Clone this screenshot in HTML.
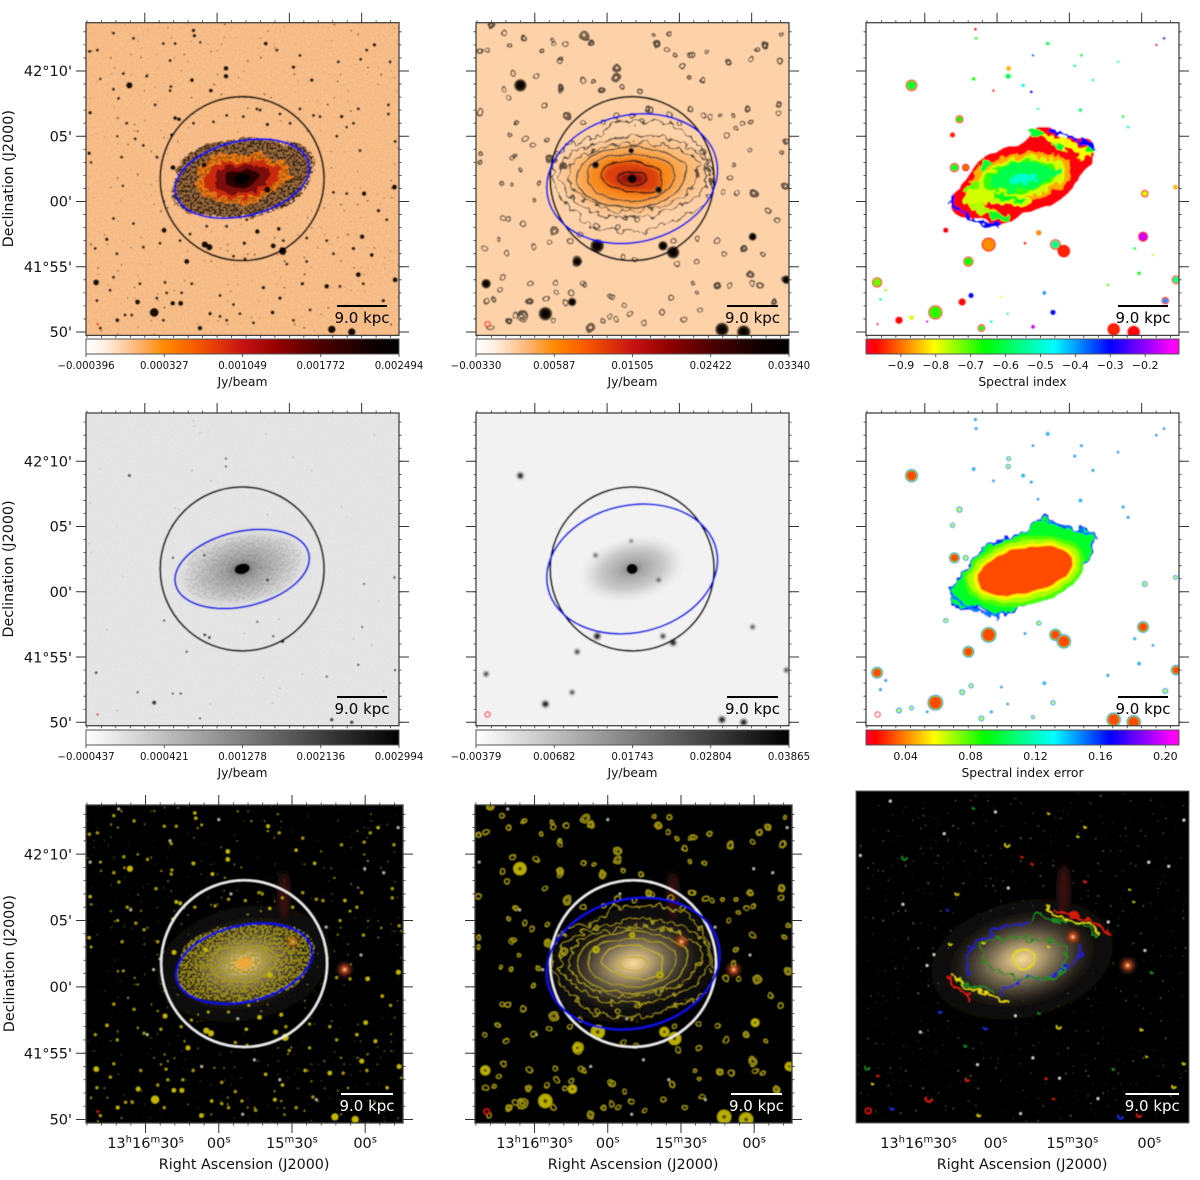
<!DOCTYPE html>
<html lang="en">
<head>
<meta charset="utf-8">
<title>Galaxy radio maps, spectral index and optical overlays</title>
<style>
html,body{margin:0;padding:0;background:#fff;}
svg{display:block;}
text{font-family:"DejaVu Sans","Liberation Sans",sans-serif;fill:#111;}
</style>
</head>
<body>
<svg id="figure" xmlns="http://www.w3.org/2000/svg" width="1200" height="1180" viewBox="0 0 1200 1180">
<defs>
<linearGradient id="cbHeat"><stop offset="0" stop-color="#ffffff"/><stop offset=".06" stop-color="#fff0e2"/><stop offset=".17" stop-color="#fbb36e"/><stop offset=".25" stop-color="#ff8a00"/><stop offset=".35" stop-color="#f85a00"/><stop offset=".5" stop-color="#c81212"/><stop offset=".62" stop-color="#8f0000"/><stop offset=".75" stop-color="#4d0000"/><stop offset=".9" stop-color="#120000"/><stop offset="1" stop-color="#000"/></linearGradient>
<linearGradient id="cbGrey"><stop offset="0" stop-color="#fff"/><stop offset="1" stop-color="#000"/></linearGradient>
<linearGradient id="cbRainbow"><stop offset="0" stop-color="#ff0030"/><stop offset=".03" stop-color="#ff0000"/><stop offset=".218" stop-color="#ffff00"/><stop offset=".38" stop-color="#00ff00"/><stop offset=".6" stop-color="#00ffff"/><stop offset=".78" stop-color="#0000ff"/><stop offset=".98" stop-color="#ff00ff"/><stop offset="1" stop-color="#ff00e0"/></linearGradient>
<radialGradient id="srcDark"><stop offset="0" stop-color="#000"/><stop offset=".6" stop-color="#170a04"/><stop offset=".85" stop-color="#5a4a3a"/><stop offset="1" stop-color="#7a6a58" stop-opacity=".7"/></radialGradient>
<radialGradient id="srcYellow"><stop offset="0" stop-color="#111"/><stop offset=".22" stop-color="#6e6600"/><stop offset=".4" stop-color="#c0b400"/><stop offset="1" stop-color="#b0a400"/></radialGradient>
<radialGradient id="galaxyTan"><stop offset="0" stop-color="#f8dc96"/><stop offset=".1" stop-color="#dcc084"/><stop offset=".28" stop-color="#958560"/><stop offset=".5" stop-color="#4f4638" stop-opacity=".92"/><stop offset=".75" stop-color="#1e1a14" stop-opacity=".5"/><stop offset="1" stop-color="#0a0806" stop-opacity="0"/></radialGradient>
<radialGradient id="galaxyGrey"><stop offset="0" stop-color="#707070"/><stop offset=".22" stop-color="#a0a0a0"/><stop offset=".6" stop-color="#c6c6c6"/><stop offset="1" stop-color="#ddd" stop-opacity="0"/></radialGradient>
<radialGradient id="glowRed"><stop offset="0" stop-color="#ffe0b0"/><stop offset=".25" stop-color="#c8521e"/><stop offset="1" stop-color="#501008" stop-opacity="0"/></radialGradient>
<filter id="soft" x="-3%" y="-3%" width="106%" height="106%"><feGaussianBlur stdDeviation=".4"/></filter>
<filter id="blur3" x="-20%" y="-20%" width="140%" height="140%"><feGaussianBlur stdDeviation="3"/></filter>
<filter id="blur1" x="-20%" y="-20%" width="140%" height="140%"><feGaussianBlur stdDeviation="1.3"/></filter>
<filter id="blur6" x="-60%" y="-60%" width="220%" height="220%"><feGaussianBlur stdDeviation="6"/></filter>
<filter id="roughA" x="-15%" y="-15%" width="130%" height="130%" color-interpolation-filters="sRGB"><feTurbulence type="fractalNoise" baseFrequency=".12" numOctaves="2" seed="4"/><feDisplacementMap in="SourceGraphic" scale="13" xChannelSelector="R" yChannelSelector="G"/></filter>
<filter id="roughB" x="-15%" y="-15%" width="130%" height="130%" color-interpolation-filters="sRGB"><feTurbulence type="fractalNoise" baseFrequency=".08" numOctaves="2" seed="9"/><feDisplacementMap in="SourceGraphic" scale="5" xChannelSelector="R" yChannelSelector="G"/></filter>
<filter id="grain" x="0" y="0" width="100%" height="100%" color-interpolation-filters="sRGB"><feTurbulence type="fractalNoise" baseFrequency="1.05" numOctaves="1" seed="2"/><feColorMatrix type="matrix" values="0 0 0 0 1 0 0 0 0 1 0 0 0 0 1 0 0 0 3.5 -1.5"/><feComposite in2="SourceAlpha" operator="in"/></filter>
<filter id="darkSparse" x="0" y="0" width="100%" height="100%" color-interpolation-filters="sRGB"><feTurbulence type="fractalNoise" baseFrequency=".3" numOctaves="1" seed="7"/><feColorMatrix type="matrix" values="0 0 0 0 .12 0 0 0 0 .07 0 0 0 0 .02 0 0 0 14 -10.2"/><feComposite in2="SourceAlpha" operator="in"/></filter>
<filter id="darkDense" x="0" y="0" width="100%" height="100%" color-interpolation-filters="sRGB"><feTurbulence type="fractalNoise" baseFrequency=".42" numOctaves="1" seed="12"/><feColorMatrix type="matrix" values="0 0 0 0 .1 0 0 0 0 .05 0 0 0 0 .02 0 0 0 10 -4.6"/><feComposite in2="SourceAlpha" operator="in"/></filter>
<filter id="yellowSparse" x="0" y="0" width="100%" height="100%" color-interpolation-filters="sRGB"><feTurbulence type="fractalNoise" baseFrequency=".3" numOctaves="1" seed="7"/><feColorMatrix type="matrix" values="0 0 0 0 .72 0 0 0 0 .67 0 0 0 0 .05 0 0 0 14 -10.2"/><feComposite in2="SourceAlpha" operator="in"/></filter>
<filter id="yellowDense" x="0" y="0" width="100%" height="100%" color-interpolation-filters="sRGB"><feTurbulence type="fractalNoise" baseFrequency=".42" numOctaves="1" seed="12"/><feColorMatrix type="matrix" values="0 0 0 0 .66 0 0 0 0 .6 0 0 0 0 .08 0 0 0 10 -4.4"/><feComposite in2="SourceAlpha" operator="in"/></filter>
<filter id="whiteSparse" x="0" y="0" width="100%" height="100%" color-interpolation-filters="sRGB"><feTurbulence type="fractalNoise" baseFrequency=".4" numOctaves="1" seed="21"/><feColorMatrix type="matrix" values="0 0 0 0 .75 0 0 0 0 .72 0 0 0 0 .65 0 0 0 12 -8.6"/><feComposite in2="SourceAlpha" operator="in"/></filter>
</defs>
</svg>
<script>
/* ---------- chart data: sky coordinates (RA seconds from 13h16m00s, Dec arcmin from 42d00m) ---------- */
const majorRaTicks = [30, 0, -30, -60];
const majorDecTicks = [10, 5, 0, -5, -10];
const decTickLabels = ["42°10'", "05'", "00'", "41°55'", "50'"];
const raTickLabels = [["13","h","16","m","30","s"], ["00","s"], ["15","m","30","s"], ["00","s"]];
const heatLabelsHigh = ["−0.000396","0.000327","0.001049","0.001772","0.002494"];
const heatLabelsLow = ["−0.00330","0.00587","0.01505","0.02422","0.03340"];
const greyLabelsHigh = ["−0.000437","0.000421","0.001278","0.002136","0.002994"];
const greyLabelsLow = ["−0.00379","0.00682","0.01743","0.02804","0.03865"];
const spectralTicks = [-0.9,-0.8,-0.7,-0.6,-0.5,-0.4,-0.3,-0.2];
const spectralTickLabels = ["−0.9","−0.8","−0.7","−0.6","−0.5","−0.4","−0.3","−0.2"];
const errorTicks = [0.04,0.08,0.12,0.16,0.20];
const errorTickLabels = ["0.04","0.08","0.12","0.16","0.20"];

const galaxyRa = -10.4;
const galaxyDec = 1.75;
const circleRadius = 6.28;
const highResEllipse = [5.24, 2.87, 13];
const lowResEllipse = [6.62, 4.87, 13];

/* compact sources at high resolution */
const hiRa = [36.4,50.2,26.1,15.1,18.4,41.4,7.1,-47.6,-55.9,5.1,3.2,-27.2,-23.3,12.6,22,-60.2,-61,-73.6,-73.9,-3.7,-3.7,2.6,10.4,9.8,9.4,7,-20.2,-65.3,-31.7,-39.3,18.3,5.4,-20.9,-16.7,-25.6,-11.3,-45.5,-23,-58.6,-69,33,-19.2,-26.1,-35.4,2.9,52.7,15.8,17.4,-20.9,18.8,41.4,48.5,45.8,53.1,52.3,39.1,-51.7,-53.8,-56.6,-64.2,-67];
const hiDec = [8.9,-6.2,-8.5,-7.8,-7.8,-9.1,-9.7,-9.8,-10,-3.3,-3.5,-3.8,-3.4,-4.6,-2.2,-2.7,.6,1.1,-6,10.2,9.6,8.5,9.3,13.1,12.7,12.2,12.1,12,10.3,9.3,2.6,2.8,.9,-2.3,-2.1,-3.2,-6.5,-8.5,-5.6,-7.6,-7.7,-6.6,-7.4,-6.3,-8.6,6.8,6.3,6.4,5.9,5.1,5,9.4,-2.9,3.7,3,1.2,6.5,5.7,-3.6,-4.1,-.7];
const hiSize = [15,14,21,12,11,9,11,18,18,15,15,18,12,12,12,11,11,12,12,11,11,9,9,8,8,6,9,8,8,8,12,12,15,11,9,8,11,9,12,8,12,8,8,8,8,8,9,9,8,8,6,6,8,8,6,6,8,6,8,9,8];

/* faint compact sources */
const faintRa = [43,34.7,53,49.7,38.9,29.2,19.5,22.3,17.4,25.7,19.2,19.5,40.9,43,37.5,39.6,25,30.6,34,50.6,30.6,34.7,43,41.6,21.6,20.9,10.5,-1.2,-6.8,-4,14.7,-24.8,-34.4,-50.3,-59.6,-71.8,-62.1,-71.1,-71.1,-40,-42.7,-34.4,-58.6,-56.6,-49.7,-59.3,-73.9,-48.3,-53.8,-51,-60.7,-45.5,-70.4,-37.2,-27.5,-12.3,-4,4.3,11.2,23.7,15.4,-17.8,-16.5,-26.1,-30.3,-10.9,1.5,-4,9.8,-6.8,-11.6,-28.9,-37.2,-48.3,-38.6,-31.7,-15.1,-9.5,-1.2,22.3,35.4,38.2,48.5,25,32,43,49.9,44.4];
const faintDec = [12.9,12.5,11.5,11.6,9.8,9.6,10.8,12.1,12.1,7.4,8.8,8.5,7.9,8.6,6,3.4,3.4,4.3,4.8,-3.6,-3.5,-1.7,-1.3,-4,-6.2,-7,-6.3,-7.2,-7.9,-9.1,-7,11.6,11.2,10.7,10.9,10.7,11.6,7.4,6.7,6.6,6.5,7.1,7.1,6,5,3.9,4.6,.7,.6,-6.5,-6.3,-3,-1.4,-2.8,-3,-1.4,-1.9,-1.9,-2.5,-3.2,-3,7,7.1,6.7,6,6.5,6.1,6.6,6,-4.2,-4.4,-4.8,-4.6,-4,-8.3,-9.1,-9.3,-8.6,-8.8,-9.1,-8.7,-8.7,-9.7,-7.4,-6.3,-5.8,-7.6,-6.8];

/* contour rings at low resolution */
const ringRa = [52.6,40.4,34.3,27,22.8,19.4,48.1,9.4,6.9,-3.9,-3.9,10,2.1,-13.8,19.4,5.5,-6.2,-20.7,-35.3,-41.5,-31.5,-28.2,-50.5,-71.9,-65.7,-62.2,-72,-25.6,-19.4,-39.4,-33.9,-16.6,-34.6,-52.6,-58.8,-71.3,-59.5,-53.5,-47,-74.4,-72.6,-52.6,-51.2,-61.1,-74,-67.1,-74.4,-59.5,-45.9,-35.7,-26.3,-22.8,-37.3,-63.6,-56.7,-64.7,-69.2,6.9,40.8,32.6,47,35.1,-2.1,2.1,9.4,17.3,12.4,40.8,44.9,52.9,52.9,52.9,38.7,36,39.4,44,28.4,30.4,22.1,16.6,24.2,18,24.9,37.3,40.4];
const ringDec = [11.5,12,12.5,11.5,12.4,11,13.5,12.7,12.2,10.2,9.5,9.3,8.5,8.5,8.7,9.2,8.8,12.1,11.2,11.5,10.4,11.2,10.6,10.7,12,11.6,12.8,12.8,12.8,9.3,9.5,7,7.1,6.6,7.1,7.5,6.1,5.6,6.6,4.6,3.7,2.8,1.8,.6,1.2,-.7,-6,-5.6,-6.4,-6.3,-7.4,-8.5,-7,-6.5,-3.6,-4.1,-7.7,-9.7,-9.1,-7.7,-7.5,-8.8,-7.3,-9.1,-6.4,-7.7,-4.6,-1.3,-2.9,6.8,3.7,3,3.5,2.4,1.3,1.4,1.4,.1,-2.2,6.5,3.3,2.7,4.7,6,5.1];
const ringSize = [7,6,6,5,5,5,9,12,9,11,11,8,9,6,9,5,6,9,8,6,8,5,7,8,9,6,5,6,5,6,5,7,7,5,5,7,6,6,5,6,5,5,7,11,11,7,11,11,9,5,8,8,5,6,9,6,9,11,9,9,5,15,8,6,6,8,14,7,5,8,5,5,6,5,5,5,5,5,12,11,11,11,6,5,5];

/* bright sources at low resolution */
const brightRa = [36,50.2,25.6,14.5,12.4,4.1,-23.2,-27.4,-60.4,-47.7,-56.7,-74.4,4.8,-21.4,-10];
const brightDec = [8.9,-6.3,-8.6,-7.7,-4.6,-3.4,-3.4,-3.9,-2.7,-9.8,-10,-6,2.8,.9,3.9];
const brightSize = [26,20,28,18,20,28,20,26,17,28,28,18,15,15,12];

/* spectral index of discrete sources */
const spotRa = [35.5,49.8,25.6,14.5,10.8,11.9,3.5,-24.2,-27.7,-60.6,-74.3,-69.8,-48.4,-56.7,17.7,13,15.6,18.5,21.3,-17.3,-4.8,-4.6,9.7,-10.8,-14.2,1.5,-21,9,8.7,-35,-32.2,-39.8,-50.2,-17,-34.6,-52.3,-54.4,-69.3,-66.1,-14.9,-61.3,-74,-57.1,-64.7,-58.9,-46,-23.2,-19.6,6.5,-14.9,40.7,35.5,46.2,48.4,2.4,-4.4,-1.8,-11.6,29];
const spotDec = [8.9,-6.2,-8.5,-7.7,-7.2,-4.6,-3.3,-3.3,-3.8,-2.7,-6,-7.6,-9.8,-10,2.6,2.6,6.3,5.1,-2.2,-2.4,10.2,9.6,9.4,8.9,8.4,8.5,12.1,13.2,12.5,11.2,10.4,9.3,10.7,7.1,7,6.5,5.7,12.5,12,11.2,.6,1.1,-3.6,-4.1,-5.5,-6.4,-8.5,-7,-9.7,-9.6,-9.1,-8.9,-6.8,-7.5,-9.2,-8.6,-7.3,-3.2,-9.2];
const spotSize = [24,21,30,15,13,21,30,22,27,21,18,15,27,27,19,15,16,13,13,13,12,13,9,9,7,6,9,7,7,7,7,7,6,6,9,7,7,6,6,6,15,12,7,6,9,7,13,9,15,10,15,12,7,7,7,6,6,7,6];
const spotIndex = [-.62,-.72,-.68,-.98,-.3,-.65,-.88,-.55,-.95,-.15,-.55,-.4,-.95,-.98,-.62,-.9,-.65,-.95,-.98,-.88,-.85,-.58,-.68,-.48,-.28,-.98,-.58,-.98,-.62,-.6,-.55,-.52,-.5,-.52,-.55,-.58,-.5,-.3,-.98,-.38,-.78,-.85,-.6,-.82,-.65,-.72,-.3,-.4,-.62,-.15,-.97,-.78,-.75,-.5,-.5,-.55,-.8,-.95,-.15];

/* galaxy isophotes: radius in arcmin per equal position-angle step */
const isoOuter = [6.0,5.9,5.6,5.4,4.9,4.5,4.3,4.5,4.2,4.3,5.4,6.1,6.1,5.7,5.1,4.9,4.5,4.2,4.0,4.2,4.2,4.5,5.2,6.1];
const isoSecond = [5.7,5.7,5.0,4.3,3.7,3.4,3.3,3.3,3.4,3.8,4.6,5.4,5.5,5.0,4.3,3.9,3.4,3.0,2.9,3.0,3.2,3.6,4.2,5.2];
const isoThird = [5.0,5.2,4.3,3.6,3.1,2.9,2.8,2.8,2.9,3.3,4.0,4.7,4.8,4.4,3.7,3.1,2.8,2.5,2.4,2.5,2.6,3.0,3.5,4.3];
const isoFourth = [4.0,4.2,3.5,3.0,2.6,2.5,2.55,2.5,2.6,3.0,3.5,4.0,4.2,3.9,3.3,2.8,2.4,2.3,2.3,2.3,2.4,2.7,3.1,3.6];
const isoFifth = [3.2,3.3,2.8,2.3,2.0,1.9,1.9,1.9,2.0,2.4,2.9,3.3,3.4,3.1,2.6,2.2,1.9,1.8,1.8,1.8,1.9,2.1,2.5,2.9];
const isoSixth = [2.2,2.2,1.8,1.5,1.4,1.35,1.35,1.4,1.5,1.8,2.1,2.3,2.35,1.9,1.5,1.2,1.1,1.05,1.05,1.1,1.3,1.6,2.0,2.3];
const isoSeventh = [1.1,1.0,.8,.65,.55,.5,.5,.5,.55,.65,.85,1.1,1.15,1.0,.8,.65,.55,.55,.55,.55,.6,.7,.85,1.0];
const haloRadii = [5.1,5.6,5.1,4.0,3.4,3.2,3.0,3.0,3.2,3.6,4.2,4.8,5.0,5.4,4.9,3.9,3.3,3.1,2.9,3.0,3.1,3.4,4.0,4.6];
const orangeRadii = [3.4,3.6,2.9,2.5,2.2,1.8,1.7,1.8,2.0,2.4,2.9,3.3,3.5,3.4,2.9,2.6,2.2,2.0,2.0,2.0,2.0,2.2,2.4,2.8];
const spectralOutline = [4.3,5.6,6.0,4.4,4.5,3.9,2.7,2.6,2.7,2.9,3.3,3.8,4.2,5.6,5.8,4.3,4.2,3.4,2.7,2.6,2.7,2.9,3.3,3.8];

/* spectral-index patches inside the galaxy (arcmin west, arcmin north, semi-axes, tilt, index) */
const patchWest = [-.1,-.1,-.1,-.1,.1,-1.4,-1.4,-3.4,-3,-1.8,-2.9,-3.9,3.4,1.1,2.8,5.2,4.8,2.4];
const patchNorth = [.1,.1,.15,.15,0,-1.5,-1.4,-1.4,-2.4,-2.9,1,-.6,2.6,3.5,2.5,2.2,1.7,.5];
const patchMajor = [3.9,3.4,2.9,2.4,1,2.2,1.7,1.2,1.2,.9,.35,.6,2.3,.5,.4,.5,.4,.5];
const patchMinor = [1.85,1.5,1.25,1.05,.4,.5,.25,.7,.3,.35,.35,.3,.3,.4,.3,.3,.25,.3];
const patchTilt = [10,10,10,10,10,-8,-8,0,-20,-10,0,30,-20,0,0,-30,0,0];
const patchIndex = [-.86,-.78,-.69,-.6,-.5,-.78,-.64,-.78,-.76,-.63,-.62,-.72,-.8,-.62,-.62,-.66,-.8,-.6];

/* error-map layers (semi-axes in arcmin and error value) */
const errMajor = [4.7,4.4,4.0,3.7];
const errMinor = [2.6,2.3,2.0,1.75];
const errValue = [.08,.068,.056,.032];

/* spectral contour arcs in the last panel (position angle, radius) */
const blueNorthAngles = [171,149,135,119,105,90,77];
const blueNorthRadii = [4,3.2,2.9,2.7,2.6,2.6,2.7];
const blueWestAngles = [172,180,195];
const blueWestRadii = [3.8,4,4];
const blueSouthAngles = [238,242,255,270,285,301,321,345,360,376];
const blueSouthRadii = [3,2.3,1.9,1.6,1.5,1.6,2.3,2.9,4,4.4];
const greenNorthAngles = [76,69,48,32,17];
const greenNorthRadii = [3,3.6,3.7,5,5.7];
const greenSouthAngles = [197,207,233];
const greenSouthRadii = [5,4.2,3];
const yellowNorthAngles = [65,51,37,28,17];
const yellowNorthRadii = [4.3,4,4.6,5.6,5.9];
const yellowSouthAngles = [192,205,222,243,255];
const yellowSouthRadii = [5.3,4.6,3.7,3.4,3.2];
const redNorthAngles = [58,41,28,15];
const redNorthRadii = [4.4,4.9,5.9,6.6];
const redSouthAngles = [192.5,201,218];
const redSouthRadii = [5.5,5.3,4.7];
const greenInnerRadii = [3.2,3.4,2.6,2,1.6,1.5,1.6,1.6,1.8,2.3,2.9,3.1,2.8,2.3,1.9,1.4,1.4,1.5,1.5,1.6,1.6,2,2.8,3];
const yellowCoreRadii = [.9,.9,.8,.7,.7,.7,.6,.5,.6,.7,.7,.8];
const blueNeEdgeAngles = [59,43,31,21];
const blueNeEdgeRadii = [4.2,4.7,5.5,6.2];
const blueSwEdgeAngles = [194,204,214,226,245];
const blueSwEdgeRadii = [5.6,5.5,5.1,4.6,4];

/* small spectral contours in the last panel */
const tinyRa = [35.5,15,-4.6,17.6,4.6,-20.8,26,-24.7,21.5,50,-69.6,-48.8,6.5,40.3,8.5,-20.8,-35,-32.2,-10.4,-14.3,-35,-52.4,-54,-61,-57,-59,-73.5,3.9,11.7,11,-22.8,-19.8,-46,-17,45.8,47.9,18.6,-56];
const tinyDec = [9.26,6.6,10.2,2.9,3,2.7,-8.5,-3.2,-2.1,-6.2,-7.6,-9.8,-9.7,-9.2,12.9,12.5,11.5,10.8,9.3,8.8,7.5,6.9,6,.8,-3.4,-5.4,-5.9,-3.3,-4.6,-7.1,-8.5,-7,-6.3,-2.2,-6.8,-7.4,5.4,-9.7];
const tinySize = [14,9,13,8,7,6,18,12,7,13,10,14,8,9,5,4,5,4,4,4,6,3,3,6,6,3,6,9,6,9,4,4,5,5,4,4,4,12];
const tinyHue = ["#1f8a1f","#c8c000","#c8c000","#d4cc00","#d4cc00","#d4cc00","#e02010","#d4cc00","#2030e0","#1f8a1f","#d4cc00","#2030e0","#d4cc00","#2030e0","#1f8a1f","#d4cc00","#d4cc00","#d4cc00","#e02010","#e02010","#e02010","#d4cc00","#d4cc00","#1f8a1f","#d4cc00","#d4cc00","#d4cc00","#2030e0","#1f8a1f","#e02010","#e02010","#e02010","#1f8a1f","#1f8a1f","#e02010","#d4cc00","#2030e0","#e02010"];

/* optical field stars and bright foreground stars */
const starRa = [26.7,24,29.3,-7.8,36.1,52.7,-59.8,0,-14.6,-9.8,41,-73.5,-67.6,-58.3,7,-5,-25,-40,20,-44];
const starDec = [1.3,2.1,-3.6,-2.4,5.8,9.4,8.9,12.6,-5.5,-9.6,13.4,12,8.6,2.4,-6,7,-7,-8.5,11,4.5];
const glowRa = [-51.6,-30.2];
const glowDec = [1.3,3.4];

/* ---------- drawing helpers ---------- */
const NS = 'http://www.w3.org/2000/svg';
const svg = document.getElementById('figure');
const RA_SPAN = 129.9, RA_LEFT = 54.4, DEC_SPAN = 23.96, DEC_TOP = 13.7;
const SEC_PER_ARCMIN = 5.415, ARCSEC_PX = 0.2175;

function mk(parent, tag, attrs) {
  const e = document.createElementNS(NS, tag);
  for (const k in attrs) e.setAttribute(k, attrs[k]);
  parent.appendChild(e);
  return e;
}
function makePanel(id, x, y, w, h, frameY, frameH) {
  const p = {x, y, w, h, k: w / 313, fy: frameY === undefined ? y : frameY, fh: frameH === undefined ? h : frameH};
  p.sx = ra => x + (RA_LEFT - ra) / RA_SPAN * w;
  p.sy = dec => y + (DEC_TOP - dec) / DEC_SPAN * h;
  p.rx = am => am * SEC_PER_ARCMIN / RA_SPAN * w;
  p.ry = am => am / DEC_SPAN * h;
  const defs = svg.querySelector('defs');
  const cp = mk(defs, 'clipPath', {id: 'clip' + id});
  mk(cp, 'rect', {x, y: p.fy, width: w, height: p.fh});
  const outer = mk(svg, 'g', {'clip-path': 'url(#clip' + id + ')'});
  
  
  p.g = mk(outer, 'g', {filter: 'url(#soft)'});
  return p;
}
function polarPoint(p, angle, r, scale, west, north) {
  const t = angle * Math.PI / 180;
  const ra = galaxyRa - (west || 0) * SEC_PER_ARCMIN - r * scale * Math.cos(t) * SEC_PER_ARCMIN;
  const dec = galaxyDec + (north || 0) + r * scale * Math.sin(t);
  return [p.sx(ra), p.sy(dec)];
}
function smooth(pts, closed) {
  const n = pts.length;
  const at = i => closed ? pts[(i + n) % n] : pts[Math.max(0, Math.min(n - 1, i))];
  let d = 'M' + pts[0][0].toFixed(1) + ' ' + pts[0][1].toFixed(1);
  const last = closed ? n : n - 1;
  for (let i = 0; i < last; i++) {
    const a = at(i - 1), b = at(i), c = at(i + 1), e = at(i + 2);
    d += 'C' + (b[0] + (c[0] - a[0]) / 6).toFixed(1) + ' ' + (b[1] + (c[1] - a[1]) / 6).toFixed(1) + ' ' +
         (c[0] - (e[0] - b[0]) / 6).toFixed(1) + ' ' + (c[1] - (e[1] - b[1]) / 6).toFixed(1) + ' ' +
         c[0].toFixed(1) + ' ' + c[1].toFixed(1);
  }
  return d + (closed ? 'Z' : '');
}
function isoPath(p, radii, scale) {
  return smooth(radii.map((r, i) => polarPoint(p, i * 360 / radii.length, r, scale || 1)), true);
}
function arcPath(p, angles, radii) {
  return smooth(angles.map((a, i) => polarPoint(p, a, radii[i], 1)), false);
}
const rainbowStops = [[0,[255,0,48]],[.03,[255,0,0]],[.218,[255,255,0]],[.38,[0,255,0]],[.6,[0,255,255]],[.78,[0,0,255]],[.98,[255,0,255]],[1,[255,0,224]]];
function rainbow(f) {
  f = Math.max(0, Math.min(1, f));
  for (let i = 1; i < rainbowStops.length; i++) {
    if (f <= rainbowStops[i][0]) {
      const a = rainbowStops[i - 1], b = rainbowStops[i], t = (f - a[0]) / (b[0] - a[0]);
      return 'rgb(' + a[1].map((v, j) => Math.round(v + (b[1][j] - v) * t)).join(',') + ')';
    }
  }
  return '#f0f';
}
const indexColor = v => rainbow((v + 1.0) / 0.897);
const errorColor = v => rainbow((v - 0.0156) / 0.1928);

function background(p, color) {
  const r = mk(p.g, 'rect', {x: p.x - 3, y: p.fy - 3, width: p.w + 6, height: p.fh + 6, fill: color});
  
  
}
function textureField(p, filter, opacity) {
  const r = mk(p.g, 'rect', {x: p.x, y: p.fy, width: p.w, height: p.fh, fill: '#fff', filter: 'url(#' + filter + ')', opacity});
  
  
}
function drawIso(p, parent, radii, scale, attrs) {
  attrs.d = isoPath(p, radii, scale);
  const e = mk(parent, 'path', attrs);
  
  
  return e;
}
function drawArc(p, angles, radii, color, width) {
  const e = mk(p.g, 'path', {d: arcPath(p, angles, radii), fill: 'none', stroke: color, 'stroke-width': width, filter: 'url(#roughA)'});
  
  
}
function drawEllipse(p, west, north, a, b, tilt, attrs) {
  const c = polarPoint(p, 0, 0, 1, west, north);
  attrs.cx = c[0]; attrs.cy = c[1];
  attrs.rx = p.rx(a); attrs.ry = p.ry(b);
  attrs.transform = 'rotate(' + (-tilt) + ' ' + c[0] + ' ' + c[1] + ')';
  const e = mk(p.g, 'ellipse', attrs);
  return e;
}
function drawApertures(p, circleColor, ellipseParams, ellipseColor, width) {
  const c = drawEllipse(p, 0, 0, circleRadius, circleRadius, 0, {fill: 'none', stroke: circleColor, 'stroke-width': width});
  
  
  const e = drawEllipse(p, 0, 0, ellipseParams[0], ellipseParams[1], ellipseParams[2], {fill: 'none', stroke: ellipseColor, 'stroke-width': width});
  
  
}
function drawDots(p, factor, fill, sizeMin, opacity) {
  hiRa.forEach((ra, i) => {
    if (hiSize[i] < sizeMin) return;
    const c = mk(p.g, 'circle', {cx: p.sx(ra), cy: p.sy(hiDec[i]), r: hiSize[i] * ARCSEC_PX * p.k * factor, fill, opacity});
    
    
  });
}
function drawFaint(p, radius, fill, opacity) {
  faintRa.forEach((ra, i) => {
    const c = mk(p.g, 'circle', {cx: p.sx(ra), cy: p.sy(faintDec[i]), r: radius, fill, opacity});
    
    
  });
}
function drawRings(p, stroke, width) {
  const layer = mk(p.g, 'g', {filter: 'url(#roughB)'});
  
  
  ringRa.forEach((ra, i) => {
    const r = ringSize[i] * 1.53 * ARCSEC_PX * p.k;
    const c = mk(layer, 'circle', {cx: p.sx(ra), cy: p.sy(ringDec[i]), r, fill: 'none', stroke, 'stroke-width': width});
    
    
    if (ringSize[i] >= 9) {
      const c2 = mk(layer, 'circle', {cx: p.sx(ra), cy: p.sy(ringDec[i]), r: r * 0.55, fill: 'none', stroke, 'stroke-width': width});
      
      
    }
  });
  faintRa.forEach((ra, i) => {
    const c = mk(layer, 'circle', {cx: p.sx(ra), cy: p.sy(faintDec[i]), r: 2.4 * p.k, fill: 'none', stroke, 'stroke-width': width * .85});
    
    
  });
}
function drawBright(p, fill, factor, blur) {
  const layer = mk(p.g, 'g', blur ? {filter: 'url(#blur1)'} : {});
  
  
  brightRa.forEach((ra, i) => {
    const c = mk(layer, 'circle', {cx: p.sx(ra), cy: p.sy(brightDec[i]), r: brightSize[i] * ARCSEC_PX * p.k * factor, fill});
    
    
  });
}
function drawContourStack(p, stroke, inner, width) {
  const list = [isoOuter, isoSecond, isoThird, isoFourth, isoFifth, isoSixth, isoSeventh];
  const layer = mk(p.g, 'g', {});
  
  
  list.forEach((radii, i) => {
    drawIso(p, layer, radii, 1, {fill: 'none', stroke: i > 4 ? inner : stroke, 'stroke-width': width, filter: i < 3 ? 'url(#roughA)' : 'url(#roughB)'});
  });
}
function beam(p, open) {
  const c = mk(p.g, 'circle', {cx: p.sx(49.6), cy: p.sy(-9.4), r: open ? 2.6 * p.k : 1, fill: open ? 'none' : '#f01010', stroke: '#f01010', 'stroke-width': open ? 1.2 : .5});
  
  
}
function drawStars(p, color) {
  starRa.forEach((ra, i) => {
    const c = mk(p.g, 'circle', {cx: p.sx(ra), cy: p.sy(starDec[i]), r: 1.3, fill: color});
    
    
  });
  glowRa.forEach((ra, i) => {
    const c = mk(p.g, 'circle', {cx: p.sx(ra), cy: p.sy(glowDec[i]), r: 9 * p.k, fill: 'url(#glowRed)'});
    
    
  });
  const plume = mk(p.g, 'ellipse', {cx: p.sx(-26.7), cy: p.sy(6.85), rx: 5 * p.k, ry: 22 * p.k, fill: '#7a1c1c', opacity: .5, filter: 'url(#blur3)'});
  
  
}
function opticalGalaxy(p) {
  const halo = drawEllipse(p, 0, 0, 7.0, 4.5, 13, {fill: 'url(#galaxyTan)'});
  
  
}

function label(x, y, str, size, anchor, fill) {
  const t = mk(svg, 'text', {x, y, 'font-size': size, 'text-anchor': anchor || 'middle'});
  if (fill) t.style.fill = fill;
  t.textContent = str;
  return t;
}
function axes(p, opts) {
  const layer = mk(svg, 'g', {stroke: '#333', 'stroke-width': 1, fill: 'none'});
  
  
  const top = p.fy, bot = p.fy + p.fh, left = p.x, right = p.x + p.w;
  for (let ra = 54; ra >= -72; ra -= 6) {
    const x = p.sx(ra);
    mk(layer, 'path', {d: 'M' + x + ' ' + top + 'v-2.5M' + x + ' ' + bot + 'v2.5', 'stroke-width': .8});
  }
  for (let dec = 13; dec >= -10; dec -= 1) {
    const y = p.sy(dec);
    mk(layer, 'path', {d: 'M' + left + ' ' + y + 'h-2.5M' + right + ' ' + y + 'h2.5', 'stroke-width': .8});
  }
  majorRaTicks.forEach(ra => {
    const x = p.sx(ra);
    mk(layer, 'path', {d: 'M' + x + ' ' + top + 'v-10' + (opts.bottom ? 'M' + x + ' ' + bot + 'v10' : '')});
  });
  majorDecTicks.forEach(dec => {
    const y = p.sy(dec);
    mk(layer, 'path', {d: 'M' + left + ' ' + y + 'h-10M' + right + ' ' + y + 'h10'});
  });
  const fr = mk(svg, 'rect', {x: left, y: top, width: p.w, height: p.fh, fill: 'none', stroke: '#444', 'stroke-width': 1.3});
  
  
}
function decLabels(p, titleX) {
  majorDecTicks.forEach((dec, i) => {
    const t = label(72, p.sy(dec) + 5.2, decTickLabels[i], 14.5, 'end');
    
    
  });
  const cy = p.sy(galaxyDec);
  const title = label(0, 0, 'Declination (J2000)', 14.3);
  title.setAttribute('transform', 'translate(' + titleX + ' ' + cy + ') rotate(-90)');
  
  
}
function raLabels(p) {
  majorRaTicks.forEach((ra, i) => {
    const t = mk(svg, 'text', {x: p.sx(ra), y: 1148, 'font-size': 14.5, 'text-anchor': 'middle'});
    
    
    raTickLabels[i].forEach((part, j) => {
      const sup = j % 2 === 1;
      const s = mk(t, 'tspan', sup ? {dy: -5.5, 'font-size': 10} : (j > 0 ? {dy: 5.5} : {}));
      s.textContent = part;
    });
  });
  const title = label(p.sx(galaxyRa), 1169, 'Right Ascension (J2000)', 14.3);
  
  
}
function scaleBar(x1, x2, y, color) {
  const b = mk(svg, 'rect', {x: x1, y: y - 1, width: x2 - x1, height: 2, fill: color});
  
  
  const t = label((x1 + x2) / 2, y + 17, '9.0 kpc', 15, 'middle', color);
  
  
}
function colorbar(p, y, grad, ticks, labels, lo, hi, unit, size) {
  const r = mk(svg, 'rect', {x: p.x, y, width: p.w, height: 15, fill: 'url(#' + grad + ')', stroke: '#555', 'stroke-width': 1});
  
  
  ticks.forEach((v, i) => {
    const x = p.x + (v - lo) / (hi - lo) * p.w;
    const tk = mk(svg, 'path', {d: 'M' + x + ' ' + (y + 15) + 'v3', stroke: '#333', 'stroke-width': .8});
    
    
    const t = label(x, y + 30, labels[i], size);
    
    
  });
  const u = label(p.x + p.w / 2, y + 47, unit, 12.3);
  
  
}
const quarter = [0, .25, .5, .75, 1];

/* ---------- panel 1: high-resolution radio map ---------- */
const p1 = makePanel('p1', 86, 22.7, 313, 312.7);
background(p1, '#f5b172');
textureField(p1, 'grain', .45);
textureField(p1, 'darkSparse', .85);
drawIso(p1, p1.g, haloRadii, 1, {fill: '#8a5f32', filter: 'url(#roughA)', opacity: .85});
drawIso(p1, p1.g, haloRadii, 1.03, {fill: '#fff', filter: 'url(#darkDense)', opacity: .75});
drawIso(p1, p1.g, orangeRadii, 1.02, {fill: '#ee7a14', filter: 'url(#roughA)'});
drawIso(p1, p1.g, orangeRadii, 1.02, {fill: '#fff', filter: 'url(#darkDense)', opacity: .3});
drawIso(p1, p1.g, orangeRadii, .8, {fill: '#c92a10', filter: 'url(#roughA)'});
drawIso(p1, p1.g, orangeRadii, .6, {fill: '#7c0d08', filter: 'url(#roughA)'});
drawIso(p1, p1.g, orangeRadii, .38, {fill: '#2c0402', filter: 'url(#roughB)'});
const core1 = drawEllipse(p1, 0, 0, .62, .4, 13, {fill: '#000'});


drawDots(p1, 1, '#160b04', 0, 1);
drawFaint(p1, 1.5, '#1a0e05', .95);
drawApertures(p1, '#000', highResEllipse, '#0f0fe8', 1.8);
beam(p1, false);
axes(p1, {});
decLabels(p1, 13);
scaleBar(337, 387, 306, '#000');
colorbar(p1, 339, 'cbHeat', quarter, heatLabelsHigh, 0, 1, 'Jy/beam', 10.2);

/* ---------- panel 2: low-resolution radio map ---------- */
const p2 = makePanel('p2', 476, 22.7, 313, 312.7);
background(p2, '#fdd2a8');
const fills2 = mk(p2.g, 'g', {filter: 'url(#blur3)'});


drawIso(p2, fills2, isoSecond, 1, {fill: '#fcc896'});
drawIso(p2, fills2, isoThird, 1, {fill: '#fbbb78'});
drawIso(p2, fills2, isoFourth, 1, {fill: '#f9a650'});
drawIso(p2, fills2, isoFifth, 1, {fill: '#f78a1c'});
drawIso(p2, fills2, isoSixth, 1, {fill: '#dd3f10'});
drawIso(p2, fills2, isoSeventh, 1, {fill: '#8f0f0a'});
drawContourStack(p2, '#5f5040', '#3a140c', 1.5);
drawRings(p2, '#5a4a3a', 1.5);
drawBright(p2, 'url(#srcDark)', 1.15, false);
const core2 = drawEllipse(p2, 0, 0, .33, .33, 0, {fill: '#000'});


drawApertures(p2, '#000', lowResEllipse, '#0f0fe8', 1.8);
beam(p2, true);
axes(p2, {});
scaleBar(727, 778, 306, '#000');
colorbar(p2, 339, 'cbHeat', quarter, heatLabelsLow, 0, 1, 'Jy/beam', 10.2);

/* ---------- panel 3: spectral index map ---------- */
const p3 = makePanel('p3', 866, 22.7, 313, 312.7);
background(p3, '#fff');
drawIso(p3, p3.g, spectralOutline, 1, {fill: indexColor(-.98), filter: 'url(#roughB)'});
const patchLayer = mk(p3.g, 'g', {filter: 'url(#roughA)'});


const savedG = p3.g;
p3.g = patchLayer;
patchWest.forEach((w, i) => {
  const e = drawEllipse(p3, w, patchNorth[i], patchMajor[i], patchMinor[i], patchTilt[i], {fill: indexColor(patchIndex[i])});
  
  
});
p3.g = savedG;
drawArc(p3, blueNeEdgeAngles, blueNeEdgeRadii, indexColor(-.3), 3.5);
drawArc(p3, blueSwEdgeAngles, blueSwEdgeRadii, indexColor(-.3), 3.5);
spotRa.forEach((ra, i) => {
  const r = spotSize[i] * ARCSEC_PX;
  const c = mk(p3.g, 'circle', {cx: p3.sx(ra), cy: p3.sy(spotDec[i]), r, fill: indexColor(spotIndex[i]), stroke: r > 3 ? indexColor(-.96) : 'none', 'stroke-width': 1.3});
  
  
});
beam(p3, false);
axes(p3, {});
scaleBar(1118, 1168, 306, '#000');
colorbar(p3, 339, 'cbRainbow', spectralTicks, spectralTickLabels, -1.0, -0.103, 'Spectral index', 11);

/* ---------- panel 4: high-resolution greyscale ---------- */
const p4 = makePanel('p4', 86, 413, 313, 312.7);
background(p4, '#e0e0e0');
textureField(p4, 'grain', .45);
const g4 = drawEllipse(p4, 0, 0, 5.6, 3.3, 13, {fill: 'url(#galaxyGrey)'});


drawIso(p4, p4.g, haloRadii, .85, {fill: '#fff', filter: 'url(#darkDense)', opacity: .08});
const core4 = drawEllipse(p4, 0, 0, .6, .4, 13, {fill: '#000'});


drawDots(p4, .45, '#111', 11, .95);
drawDots(p4, .4, '#666', 0, .55);
drawApertures(p4, '#000', highResEllipse, '#0f0fe8', 1.8);
beam(p4, false);
axes(p4, {});
decLabels(p4, 13);
scaleBar(337, 387, 697, '#000');
colorbar(p4, 730, 'cbGrey', quarter, greyLabelsHigh, 0, 1, 'Jy/beam', 10.2);

/* ---------- panel 5: low-resolution greyscale ---------- */
const p5 = makePanel('p5', 476, 413, 313, 312.7);
background(p5, '#f2f2f2');
const g5 = drawEllipse(p5, 0, 0, 4.2, 2.5, 13, {fill: 'url(#galaxyGrey)', opacity: .9});


drawBright(p5, '#111', .5, true);
const core5 = drawEllipse(p5, 0, 0, .42, .4, 0, {fill: '#000'});


drawApertures(p5, '#000', lowResEllipse, '#0f0fe8', 1.8);
beam(p5, true);
axes(p5, {});
scaleBar(727, 778, 697, '#000');
colorbar(p5, 730, 'cbGrey', quarter, greyLabelsLow, 0, 1, 'Jy/beam', 10.2);

/* ---------- panel 6: spectral index error ---------- */
const p6 = makePanel('p6', 866, 413, 313, 312.7);
background(p6, '#fff');
drawIso(p6, p6.g, spectralOutline, 1, {fill: errorColor(.095), stroke: errorColor(.16), 'stroke-width': 2, filter: 'url(#roughA)'});
drawArc(p6, blueNeEdgeAngles, blueNeEdgeRadii, errorColor(.15), 3);
drawArc(p6, blueSwEdgeAngles, blueSwEdgeRadii, errorColor(.15), 3);
errMajor.forEach((a, i) => {
  const e = drawEllipse(p6, .2, -.15, a, errMinor[i], 13, {fill: errorColor(errValue[i]), filter: 'url(#roughB)'});
  
  
});
spotRa.forEach((ra, i) => {
  const r = spotSize[i] * ARCSEC_PX;
  const cx = p6.sx(ra), cy = p6.sy(spotDec[i]);
  const big = r > 3.5;
  const o = mk(p6.g, 'circle', {cx, cy, r: big ? r + 1 : r * .8, fill: big ? errorColor(.09) : errorColor(.12), stroke: errorColor(.15), 'stroke-width': .8});
  
  
  if (r > 2) {
    const c = mk(p6.g, 'circle', {cx, cy, r: big ? r - .2 : r * .45, fill: big ? errorColor(.032) : errorColor(.06)});
    
    
  }
});
beam(p6, true);
axes(p6, {});
scaleBar(1118, 1168, 697, '#000');
colorbar(p6, 730, 'cbRainbow', errorTicks, errorTickLabels, .0156, .2084, 'Spectral index error', 11);

/* ---------- panel 7: optical with high-resolution contours ---------- */
const p7 = makePanel('p7', 86, 805, 317, 318);
background(p7, '#060606');
opticalGalaxy(p7);
drawStars(p7, '#b8b4aa');
textureField(p7, 'yellowSparse', .9);
drawIso(p7, p7.g, haloRadii, .98, {fill: '#fff', filter: 'url(#yellowDense)', opacity: .85});
drawIso(p7, p7.g, orangeRadii, .72, {fill: 'none', stroke: '#a89a1a', 'stroke-width': 1.2, filter: 'url(#roughB)'});
const core7 = drawEllipse(p7, 0, 0, .6, .42, 13, {fill: '#f0a838', filter: 'url(#blur1)'});


drawDots(p7, .85, '#c4b800', 0, 1);
drawFaint(p7, 1.4, '#b4a800', .95);
drawApertures(p7, '#f2f2f2', highResEllipse, '#1010e0', 2.1);
beam(p7, false);
axes(p7, {bottom: true});
decLabels(p7, 14);
raLabels(p7);
scaleBar(341, 393, 1094, '#fff');

/* ---------- panel 8: optical with low-resolution contours ---------- */
const p8 = makePanel('p8', 475, 805, 317, 318);
background(p8, '#060606');
opticalGalaxy(p8);
drawStars(p8, '#b8b4aa');
drawContourStack(p8, '#a3961a', '#c2ae20', 1.2);
drawRings(p8, '#a89b10', 1.25);
drawBright(p8, 'url(#srcYellow)', 1.15, false);
drawApertures(p8, '#f2f2f2', lowResEllipse, '#1010e0', 2.1);
beam(p8, true);
axes(p8, {bottom: true});
raLabels(p8);
scaleBar(731, 782, 1094, '#fff');

/* ---------- panel 9: optical with spectral index contours ---------- */
const p9 = makePanel('p9', 856, 797, 333, 325.5, 791, 332);
background(p9, '#060606');
textureField(p9, 'whiteSparse', .5);
opticalGalaxy(p9);
drawStars(p9, '#d8d4ca');
drawArc(p9, redNorthAngles, redNorthRadii, '#e01a10', 2);
drawArc(p9, redSouthAngles, redSouthRadii, '#e01a10', 2);
drawArc(p9, greenNorthAngles, greenNorthRadii, '#1f8a1f', 1.9);
drawArc(p9, greenSouthAngles, greenSouthRadii, '#1f8a1f', 1.9);
drawArc(p9, yellowNorthAngles, yellowNorthRadii, '#e4d800', 2);
drawArc(p9, yellowSouthAngles, yellowSouthRadii, '#e4d800', 2);
drawArc(p9, blueNorthAngles, blueNorthRadii, '#1c1cd8', 1.9);
drawArc(p9, blueWestAngles, blueWestRadii, '#1c1cd8', 1.9);
drawArc(p9, blueSouthAngles, blueSouthRadii, '#1c1cd8', 1.9);
drawIso(p9, p9.g, greenInnerRadii, 1, {fill: 'none', stroke: '#1f8a1f', 'stroke-width': 1.8, filter: 'url(#roughA)'});
drawIso(p9, p9.g, yellowCoreRadii, 1, {fill: 'none', stroke: '#e4d800', 'stroke-width': 2, filter: 'url(#roughB)'});
tinyRa.forEach((ra, i) => {
  const r = tinySize[i] * ARCSEC_PX * p9.k * .75;
  const c = mk(p9.g, 'circle', {cx: p9.sx(ra), cy: p9.sy(tinyDec[i]), r, fill: 'none', stroke: tinyHue[i], 'stroke-width': 1.6, 'stroke-dasharray': (r * 3.6).toFixed(1) + ' ' + (r * 2.7).toFixed(1)});
  
  
});
beam(p9, true);
const frame9 = mk(svg, 'rect', {x: 856, y: 791, width: 333, height: 332, fill: 'none', stroke: '#666', 'stroke-width': 1});


raLabels(p9);
scaleBar(1125.5, 1179, 1094, '#fff');
</script>
</body>
</html>
